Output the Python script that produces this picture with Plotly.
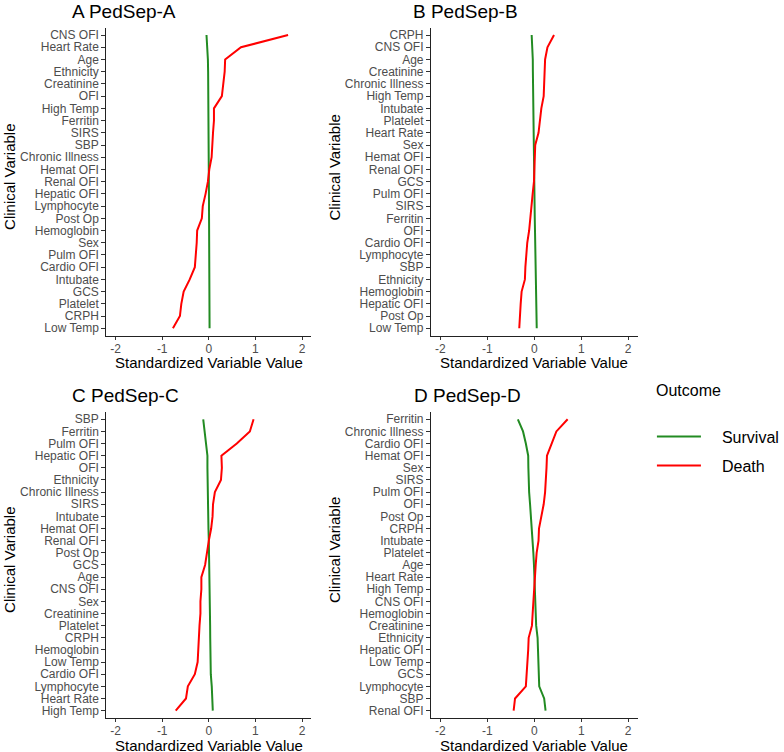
import plotly.graph_objects as go

# ---------------- data ----------------
cats_a = ["CNS OFI", "Heart Rate", "Age", "Ethnicity", "Creatinine", "OFI", "High Temp", "Ferritin",
          "SIRS", "SBP", "Chronic Illness", "Hemat OFI", "Renal OFI", "Hepatic OFI", "Lymphocyte",
          "Post Op", "Hemoglobin", "Sex", "Pulm OFI", "Cardio OFI", "Intubate", "GCS", "Platelet",
          "CRPH", "Low Temp"]
death_a = [1.70, 0.69, 0.35, 0.34, 0.31, 0.28, 0.11, 0.11, 0.09, 0.08, 0.06, 0.01, -0.02, -0.07,
           -0.13, -0.15, -0.25, -0.26, -0.28, -0.30, -0.41, -0.54, -0.59, -0.62, -0.77]
surv_a = [-0.05, -0.03, -0.02, -0.015, -0.012, -0.01, -0.005, -0.004, -0.003, -0.002, -0.001, 0.0,
          0.001, 0.003, 0.004, 0.005, 0.007, 0.008, 0.008, 0.009, 0.011, 0.013, 0.014, 0.015, 0.016]

cats_b = ["CRPH", "CNS OFI", "Age", "Creatinine", "Chronic Illness", "High Temp", "Intubate", "Platelet",
          "Heart Rate", "Sex", "Hemat OFI", "Renal OFI", "GCS", "Pulm OFI", "SIRS", "Ferritin", "OFI",
          "Cardio OFI", "Lymphocyte", "SBP", "Ethnicity", "Hemoglobin", "Hepatic OFI", "Post Op", "Low Temp"]
death_b = [0.42, 0.28, 0.23, 0.22, 0.21, 0.20, 0.15, 0.12, 0.09, 0.02, 0.01, 0.007, -0.007, -0.035,
           -0.056, -0.077, -0.11, -0.15, -0.175, -0.19, -0.20, -0.27, -0.29, -0.31, -0.32]
surv_b = [-0.056, -0.04, -0.032, -0.03, -0.028, -0.027, -0.02, -0.016, -0.012, -0.003, -0.001, -0.001,
          0.001, 0.005, 0.008, 0.01, 0.015, 0.02, 0.023, 0.025, 0.027, 0.038, 0.042, 0.046, 0.052]

cats_c = ["SBP", "Ferritin", "Pulm OFI", "Hepatic OFI", "OFI", "Ethnicity", "Chronic Illness", "SIRS",
          "Intubate", "Hemat OFI", "Renal OFI", "Post Op", "GCS", "Age", "CNS OFI", "Sex", "Creatinine",
          "Platelet", "CRPH", "Hemoglobin", "Low Temp", "Cardio OFI", "Lymphocyte", "Heart Rate", "High Temp"]
death_c = [0.96, 0.88, 0.60, 0.27, 0.28, 0.26, 0.13, 0.09, 0.08, 0.05, 0.0, -0.04, -0.08, -0.16,
           -0.16, -0.18, -0.18, -0.20, -0.21, -0.23, -0.24, -0.30, -0.45, -0.49, -0.71]
surv_c = [-0.12, -0.09, -0.06, -0.03, -0.03, -0.028, -0.018, -0.013, -0.012, -0.008, 0.0, 0.005,
          0.011, 0.022, 0.022, 0.025, 0.026, 0.028, 0.03, 0.032, 0.034, 0.042, 0.063, 0.068, 0.085]

cats_d = ["Ferritin", "Chronic Illness", "Cardio OFI", "Hemat OFI", "Sex", "SIRS", "Pulm OFI", "OFI",
          "Post Op", "CRPH", "Intubate", "Platelet", "Age", "Heart Rate", "High Temp", "CNS OFI",
          "Hemoglobin", "Creatinine", "Ethnicity", "Hepatic OFI", "Low Temp", "GCS", "Lymphocyte",
          "SBP", "Renal OFI"]
death_d = [0.71, 0.47, 0.37, 0.27, 0.26, 0.25, 0.23, 0.20, 0.15, 0.10, 0.09, 0.05, 0.03, 0.01, -0.01,
           -0.02, -0.035, -0.05, -0.12, -0.13, -0.15, -0.16, -0.18, -0.41, -0.44]
surv_d = [-0.35, -0.24, -0.18, -0.13, -0.126, -0.12, -0.11, -0.09, -0.07, -0.05, -0.035, -0.02, -0.007,
          0.0, 0.007, 0.014, 0.02, 0.04, 0.07, 0.077, 0.084, 0.09, 0.105, 0.21, 0.24]

panel_titles = ["A PedSep-A", "B PedSep-B", "C PedSep-C", "D PedSep-D"]
x_ticks = [-2, -1, 0, 1, 2]
x_tick_labels = ["-2", "-1", "0", "1", "2"]
outcomes = ["Survival", "Death"]

# ---------------- layout ----------------
W, H = 784, 752
OFF = 0  # body margin removed by post_script
GREEN = "#228B22"
RED = "#FF0000"
FONT = "Liberation Sans, Arial, sans-serif"


def fx(p):
    return (p - OFF) / W


def fy(p):
    return 1 - (p - OFF) / H


panels = [
    (cats_a, surv_a, death_a),
    (cats_b, surv_b, death_b),
    (cats_c, surv_c, death_c),
    (cats_d, surv_d, death_d),
]

# page-pixel boxes (left, right) and (top, bottom)
xbox = [(107.5, 315.0), (436.0, 645.0)]
ybox = [(27.7, 335.6), (412.0, 717.9)]

fig = go.Figure()

for i, (cats, surv, death) in enumerate(panels):
    ax = "" if i == 0 else str(i + 1)
    xref, yref = "x" + ax, "y" + ax
    fig.add_trace(go.Scatter(x=surv, y=cats, mode="lines", name="\u2002\u2002" + outcomes[0],
                             line=dict(color=GREEN, width=2), xaxis=xref, yaxis=yref,
                             legendgroup="s", showlegend=(i == 0)))
    fig.add_trace(go.Scatter(x=death, y=cats, mode="lines", name="\u2002\u2002" + outcomes[1],
                             line=dict(color=RED, width=2), xaxis=xref, yaxis=yref,
                             legendgroup="d", showlegend=(i == 0)))
    col, row = i % 2, i // 2
    l, r = xbox[col]
    t, b = ybox[row]
    axis_common = dict(showline=True, linecolor="#222222", linewidth=1.1, ticks="outside",
                       tickwidth=1.1, tickcolor="#333333", showgrid=False,
                       zeroline=False, tickfont=dict(family=FONT, size=12, color="#4D4D4D"))
    fig.layout["xaxis" + ax] = dict(domain=[fx(l), fx(r)], range=[-2.2, 2.2], tickmode="array",
                                   tickvals=x_ticks, ticktext=x_tick_labels, anchor=yref,
                                   ticklen=3, ticklabelstandoff=-1, **axis_common)
    fig.layout["yaxis" + ax] = dict(domain=[fy(b), fy(t)], type="category",
                                   categoryorder="array", categoryarray=cats,
                                   tickmode="array", tickvals=cats, ticktext=cats,
                                   range=[len(cats) - 0.4, -0.6], anchor=xref, ticklen=4,
                                   **axis_common)

annotations = []
title_pos = [(71, 11), (416, 11), (71, 395), (416.5, 395)]
for (px, py), txt in zip(title_pos, panel_titles):
    annotations.append(dict(text=txt, x=fx(px), y=fy(py), xref="paper", yref="paper",
                            xanchor="left", yanchor="middle", showarrow=False,
                            font=dict(family=FONT, size=19, color="black")))
xt_pos = [(211, 362.5), (540, 362.5), (211, 745.5), (540, 745.5)]
for px, py in xt_pos:
    annotations.append(dict(text="Standardized Variable Value", x=fx(px), y=fy(py),
                            xref="paper", yref="paper", xanchor="center", yanchor="middle",
                            showarrow=False, font=dict(family=FONT, size=15, color="black")))
yt_pos = [(9, 177), (338, 167.5), (9, 560), (338, 550)]
for px, py in yt_pos:
    annotations.append(dict(text="Clinical Variable", x=fx(px), y=fy(py), textangle=-90,
                            xref="paper", yref="paper", xanchor="center", yanchor="middle",
                            showarrow=False, font=dict(family=FONT, size=15, color="black")))
annotations.append(dict(text="Outcome", x=fx(662), y=fy(390.7), xref="paper", yref="paper",
                        xanchor="left", yanchor="middle", showarrow=False,
                        font=dict(family=FONT, size=16, color="black")))

fig.update_layout(
    width=W, height=H, margin=dict(l=0, r=0, t=0, b=0),
    paper_bgcolor="white", plot_bgcolor="white",
    annotations=annotations,
    legend=dict(x=fx(659.5), y=fy(419.7), xanchor="left", yanchor="top",
                font=dict(family=FONT, size=16, color="black"), itemwidth=44,
                tracegroupgap=5, bgcolor="rgba(0,0,0,0)"),
    showlegend=True,
)

fig.write_html("out.html", config={"displayModeBar": False},
               post_script="document.body.style.margin='0';document.body.style.overflow='hidden';")
